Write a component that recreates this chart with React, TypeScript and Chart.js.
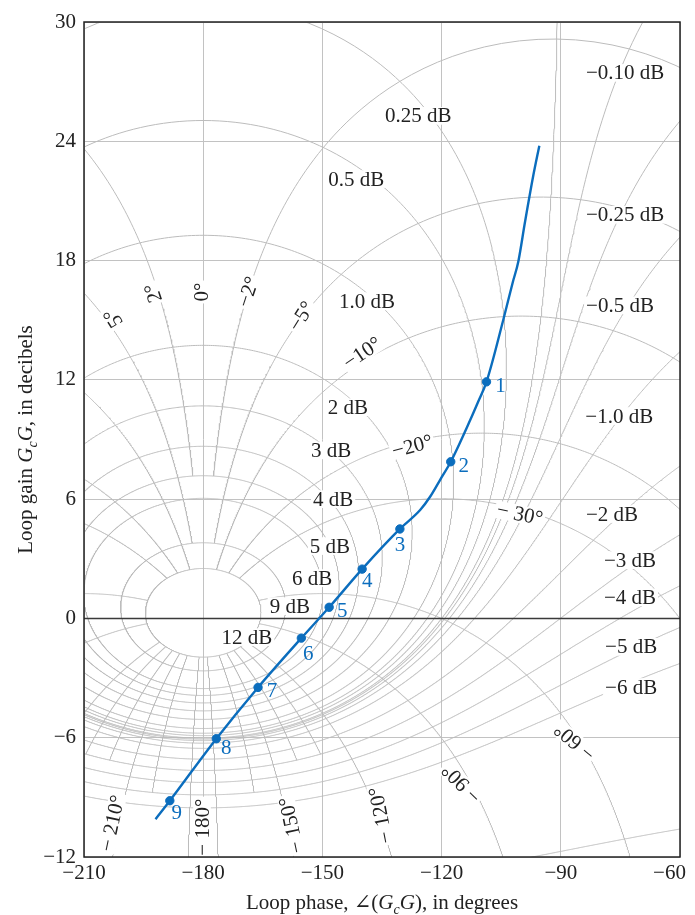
import React, { useEffect, useRef } from "react";
import { Chart, registerables } from "chart.js";
Chart.register(...registerables);

// ---------- data ----------
const phaseTicks = [-210, -180, -150, -120, -90, -60];
const gainTicks = [-12, -6, 0, 6, 12, 18, 24, 30];

// open-loop frequency response (blue curve), phase in degrees / gain in dB
const curvePhase = [-192.0, -188.4, -176.7, -166.2, -155.3, -148.3, -140.0, -130.5, -125.4, -122.9, -120.4, -117.7, -112.8, -110.8, -108.7, -104.5, -102.1, -100.7, -99.0, -96.9, -95.4];
const curveGain = [-10.1, -9.17, -6.05, -3.47, -0.99, 0.56, 2.48, 4.5, 5.45, 6.12, 6.96, 7.88, 9.98, 10.9, 11.9, 15.0, 16.9, 17.94, 19.95, 22.3, 23.78];

// numbered frequency points
const markerPhase = [-108.7, -117.7, -130.5, -140.0, -148.3, -155.3, -166.2, -176.7, -188.4];
const markerGain = [11.9, 7.88, 4.5, 2.48, 0.56, -0.99, -3.47, -6.05, -9.17];
const markerLabels = ["1", "2", "3", "4", "5", "6", "7", "8", "9"];

// closed-loop magnitude contours (dB)
const mContoursDb = [12, 9, 6, 5, 4, 3, 2, 1, 0.5, 0.25, 0, -0.1, -0.25, -0.5, -1, -2, -3, -4, -5, -6, -12];

// closed-loop phase contours (deg) with the closed-loop magnitude range they are drawn over
const phaseContoursDeg = [-2, 2, -5, 5, -10, 10, -20, 20, -30, 30, -60, 60, -90, 90, -120, 120, -130, 130, -140, 140, -150, 150, -160, 160, -175, 175];
const phaseContourMinDb = [-99, -99, -99, -99, -99, -99, -99, -99, -99, -99, -99, -99, -99, -99, -99, -99, -3, -3, -3, -3, -99, -99, -5, -5, -99, -99];
const phaseContourMaxDb = [5, 5, 9, 9, 12, 12, 12, 12, 12, 12, 12, 12, 12, 12, 12, 12, 12, 12, 12, 12, 12, 12, 12, 12, 12, 12];

// contour labels
const mLabelText = ["0.25 dB", "0.5 dB", "1.0 dB", "2 dB", "3 dB", "4 dB", "5 dB", "6 dB", "9 dB", "12 dB", "\u22120.10 dB", "\u22120.25 dB", "\u22120.5 dB", "\u22121.0 dB", "\u22122 dB", "\u22123 dB", "\u22124 dB", "\u22125 dB", "\u22126 dB"];
const mLabelPhase = [-125.9, -141.5, -138.8, -143.6, -147.8, -147.3, -148.1, -152.6, -158.2, -169.0, -73.8, -73.8, -75.1, -75.3, -77.1, -72.6, -72.6, -72.3, -72.3];
const mLabelGain = [25.28, 22.1, 15.96, 10.62, 8.45, 6.0, 3.64, 2.03, 0.62, -0.94, 27.44, 20.3, 15.75, 10.18, 5.25, 2.93, 1.06, -1.43, -3.45];

const phaseLabelText = ["5\u00b0", "2\u00b0", "0\u00b0", "\u22122\u00b0", "\u22125\u00b0", "\u221210\u00b0", "\u221220\u00b0", "\u2212 30\u00b0", "\u2212 210\u00b0", "\u2212 180\u00b0", "\u2212 150\u00b0", "\u2212 120\u00b0", "\u2212 90\u00b0", "\u2212 60\u00b0"];
const phaseLabelPhase = [-202.7, -192.6, -180.55, -168.7, -155.3, -140.0, -127.4, -100.3, -202.9, -180.3, -157.8, -135.3, -115.0, -86.5];
const phaseLabelGain = [15.11, 16.37, 16.42, 16.42, 15.2, 13.35, 8.67, 5.25, -10.3, -10.5, -10.4, -9.9, -8.3, -6.2];
const phaseLabelAngle = [-122, -108, -90, -72, -58, -34, -15, 12, -78, -90, -102, -101, -135, -140];

// ---------- helpers ----------
const DEG = Math.PI / 180;
const FONT = "'Liberation Serif', 'DejaVu Serif', serif";
const BLUE = "#0b6dbd";
const GRID = "#c2c2c2";
const TEXT_SIZE = 21;

function openLoopPoint(tRe: number, tIm: number) {
  const dRe = 1 - tRe;
  const dIm = -tIm;
  const den = dRe * dRe + dIm * dIm;
  const lRe = (tRe * dRe + tIm * dIm) / den;
  const lIm = (tIm * dRe - tRe * dIm) / den;
  let ph = Math.atan2(lIm, lRe) / DEG;
  if (ph > 0) ph -= 360;
  return { x: ph, y: 20 * Math.log10(Math.hypot(lRe, lIm)) };
}

type P = { x: number; y: number };

function pushPoint(pts: P[], p: P | null) {
  const last = pts.length ? pts[pts.length - 1] : null;
  if (!p || !isFinite(p.y) || Math.abs(p.y) > 70) {
    if (last && !isNaN(last.y)) pts.push({ x: NaN, y: NaN });
    return;
  }
  if (last && !isNaN(last.y) && Math.abs(p.x - last.x) > 90) pts.push({ x: NaN, y: NaN });
  pts.push(p);
}

function magnitudeContour(db: number): P[] {
  const M = Math.pow(10, db / 20);
  const N = 3000;
  const pts: P[] = [];
  const start = db === 0 ? 1 : 0;
  const end = db === 0 ? N - 1 : N;
  for (let i = start; i <= end; i++) {
    const th = (2 * Math.PI * i) / N;
    pushPoint(pts, openLoopPoint(M * Math.cos(th), M * Math.sin(th)));
  }
  return pts;
}

function phaseContour(alpha: number, minDb: number, maxDb: number): P[] {
  const a = alpha * DEG;
  const N = 4000;
  const pts: P[] = [];
  for (let i = 0; i <= N; i++) {
    const lr = -2.5 + (5 * i) / N;
    const rdb = 20 * lr;
    if (rdb < minDb || rdb > maxDb) {
      pushPoint(pts, null);
      continue;
    }
    const r = Math.pow(10, lr);
    pushPoint(pts, openLoopPoint(r * Math.cos(a), r * Math.sin(a)));
  }
  return pts;
}

function fmt(v: number) {
  return v < 0 ? "\u2212" + Math.abs(v) : String(v);
}

type Part = { t: string; italic?: boolean; sub?: boolean };

function drawRich(ctx: CanvasRenderingContext2D, parts: Part[], cx: number, cy: number, angle: number, size: number) {
  ctx.save();
  ctx.translate(cx, cy);
  ctx.rotate(angle * DEG);
  const fontOf = (p: Part) => `${p.italic ? "italic " : ""}${p.sub ? Math.round(size * 0.68) : size}px ${FONT}`;
  let total = 0;
  const widths = parts.map((p) => {
    ctx.font = fontOf(p);
    const w = ctx.measureText(p.t).width;
    total += w;
    return w;
  });
  let x = -total / 2;
  ctx.fillStyle = "#222";
  ctx.textBaseline = "alphabetic";
  ctx.textAlign = "left";
  parts.forEach((p, i) => {
    ctx.font = fontOf(p);
    ctx.fillText(p.t, x, size * 0.35 + (p.sub ? size * 0.22 : 0));
    x += widths[i];
  });
  ctx.restore();
}

function drawLabel(ctx: CanvasRenderingContext2D, text: string, x: number, y: number, angle: number, size: number, color: string, bg: boolean) {
  ctx.save();
  ctx.translate(x, y);
  ctx.rotate(angle * DEG);
  ctx.font = `${size}px ${FONT}`;
  const w = ctx.measureText(text).width;
  if (bg) {
    ctx.fillStyle = "#ffffff";
    ctx.fillRect(-w / 2 - 2, -size * 0.42, w + 4, size * 0.84);
  }
  ctx.fillStyle = color;
  ctx.textAlign = "center";
  ctx.textBaseline = "middle";
  ctx.fillText(text, 0, 1);
  ctx.restore();
}

// label offsets (pixels) for the numbered points
const markerOffsets = [[14, 4], [13, 4], [0, 16], [5, 11], [13, 3], [7, 15], [14, 3], [10, 9], [7, 12]];

const overlayPlugin = {
  id: "nicholsOverlay",
  beforeDatasetDraw(chart: any, args: any) {
    if (args.index !== 1) return;
    const ctx: CanvasRenderingContext2D = chart.ctx;
    const xs = chart.scales.x;
    const ys = chart.scales.y;
    const area = chart.chartArea;
    ctx.save();
    ctx.beginPath();
    ctx.rect(area.left, area.top, area.right - area.left, area.bottom - area.top);
    ctx.clip();
    ctx.strokeStyle = "#3a3a3a";
    ctx.lineWidth = 1.6;
    ctx.beginPath();
    const y0 = ys.getPixelForValue(0);
    ctx.moveTo(area.left, y0);
    ctx.lineTo(area.right, y0);
    ctx.stroke();
    mLabelText.forEach((t, i) => {
      drawLabel(ctx, t, xs.getPixelForValue(mLabelPhase[i]), ys.getPixelForValue(mLabelGain[i]), 0, TEXT_SIZE, "#222", true);
    });
    phaseLabelText.forEach((t, i) => {
      drawLabel(ctx, t, xs.getPixelForValue(phaseLabelPhase[i]), ys.getPixelForValue(phaseLabelGain[i]), phaseLabelAngle[i], TEXT_SIZE, "#222", true);
    });
    ctx.restore();
  },
  afterDraw(chart: any) {
    const ctx: CanvasRenderingContext2D = chart.ctx;
    const xs = chart.scales.x;
    const ys = chart.scales.y;
    const area = chart.chartArea;
    markerLabels.forEach((t, i) => {
      const px = xs.getPixelForValue(markerPhase[i]);
      const py = ys.getPixelForValue(markerGain[i]);
      const off = markerOffsets[i];
      drawLabel(ctx, t, px + off[0], py + off[1], 0, TEXT_SIZE, BLUE, false);
    });
    ctx.save();
    ctx.strokeStyle = "#222";
    ctx.lineWidth = 1.5;
    ctx.strokeRect(area.left, area.top, area.right - area.left, area.bottom - area.top);
    ctx.restore();
    drawRich(ctx, [
      { t: "Loop phase, \u2220(" },
      { t: "G", italic: true },
      { t: "c", italic: true, sub: true },
      { t: "G", italic: true },
      { t: "), in degrees" },
    ], (area.left + area.right) / 2, 902, 0, 21);
    drawRich(ctx, [
      { t: "Loop gain " },
      { t: "G", italic: true },
      { t: "c", italic: true, sub: true },
      { t: "G", italic: true },
      { t: ", in decibels" },
    ], 25, (area.top + area.bottom) / 2, -90, 21);
  },
};

export default function App() {
  const ref = useRef<HTMLCanvasElement>(null);
  useEffect(() => {
    if (!ref.current) return;
    const contourStyle = { borderColor: "#bcbcbc", borderWidth: 1, pointRadius: 0, fill: false, tension: 0 };
    const datasets: any[] = [
      {
        label: "points",
        data: markerPhase.map((x, i) => ({ x, y: markerGain[i] })),
        showLine: false,
        pointRadius: 4.2,
        pointBackgroundColor: BLUE,
        pointBorderColor: BLUE,
        borderColor: BLUE,
      },
      {
        label: "response",
        data: curvePhase.map((x, i) => ({ x, y: curveGain[i] })),
        borderColor: BLUE,
        borderWidth: 2.4,
        pointRadius: 0,
        cubicInterpolationMode: "monotone",
        fill: false,
      },
    ];
    mContoursDb.forEach((db) => datasets.push({ label: `M ${db}`, data: magnitudeContour(db), ...contourStyle }));
    phaseContoursDeg.forEach((a, i) =>
      datasets.push({ label: `N ${a}`, data: phaseContour(a, phaseContourMinDb[i], phaseContourMaxDb[i]), ...contourStyle })
    );

    const lastPhaseTick = phaseTicks[phaseTicks.length - 1];
    const chart = new Chart(ref.current, {
      type: "line",
      data: { datasets },
      plugins: [overlayPlugin],
      options: {
        animation: false,
        responsive: false,
        devicePixelRatio: 1,
        layout: { padding: { top: 22, right: 15, left: 0, bottom: 0 } },
        plugins: { legend: { display: false }, tooltip: { enabled: false } },
        scales: {
          x: {
            type: "linear",
            min: -210,
            max: -60,
            afterBuildTicks: (s: any) => { s.ticks = phaseTicks.map((v) => ({ value: v })); },
            afterFit: (s: any) => { s.height = 58; s.paddingLeft = 0; s.paddingRight = 0; },
            ticks: {
              callback: (v: any) => fmt(Number(v)) + (Number(v) === lastPhaseTick ? "\u2002\u2002" : ""),
              color: "#222",
              font: { family: FONT, size: 21 },
              padding: 4,
              maxRotation: 0,
            },
            grid: { color: GRID, lineWidth: 1, drawTicks: false },
            border: { display: false },
          },
          y: {
            type: "linear",
            min: -12,
            max: 30,
            afterBuildTicks: (s: any) => { s.ticks = gainTicks.map((v) => ({ value: v })); },
            afterFit: (s: any) => { s.width = 84; s.paddingTop = 0; s.paddingBottom = 0; },
            ticks: { callback: (v: any) => fmt(Number(v)), color: "#222", font: { family: FONT, size: 21 }, padding: 8 },
            grid: { color: GRID, lineWidth: 1, drawTicks: false },
            border: { display: false },
          },
        },
      } as any,
    });
    return () => chart.destroy();
  }, []);

  return (
    <div style={{ position: "absolute", left: 0, top: 0, width: 695, height: 915, background: "#fff" }}>
      <canvas ref={ref} width={695} height={915} style={{ display: "block", width: 695, height: 915 }} />
    </div>
  );
}
